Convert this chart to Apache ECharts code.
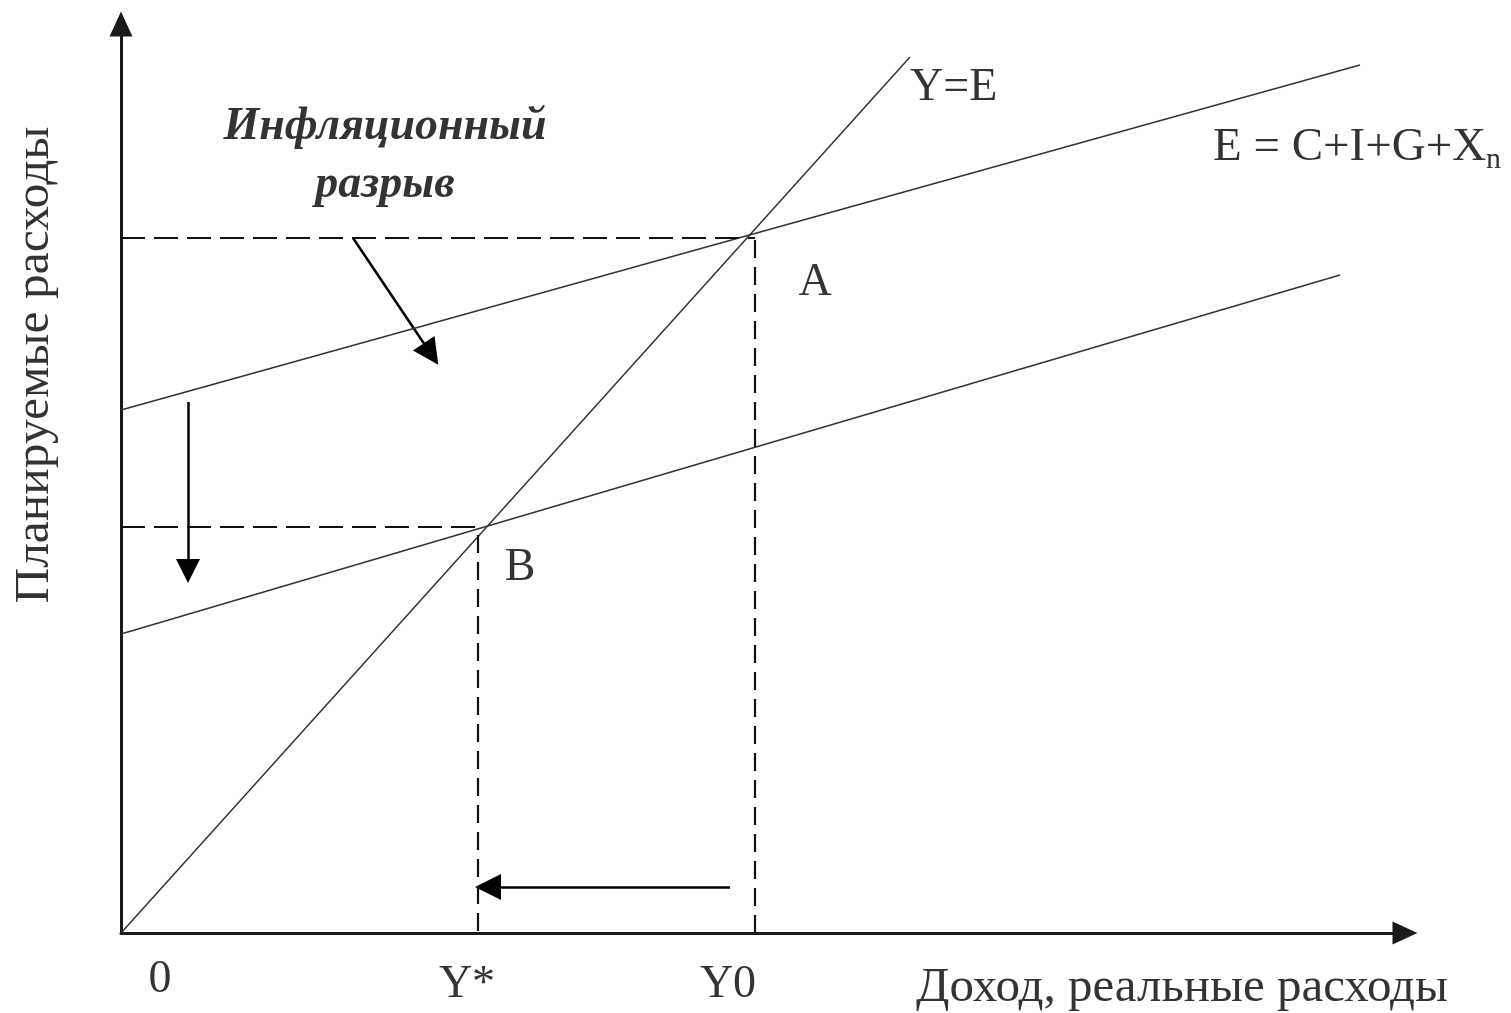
<!DOCTYPE html>
<html>
<head>
<meta charset="utf-8">
<script src="https://cdn.jsdelivr.net/npm/echarts@6/dist/echarts.min.js"></script>
<style>
html,body{margin:0;padding:0;background:#fff;}
#c{width:1511px;height:1013px;}
</style>
</head>
<body>
<div id="c"></div>
<script>
// Line data (x = income, y = planned expenditure; arbitrary units)
const lineYE = [[0, 0], [789, 876]];
const lineE1 = [[0, 523], [1239, 868]];
const lineE2 = [[0, 299], [1219, 658]];
// Dashed guides
const dashAH = [[0, 695], [634, 695]];
const dashAV = [[634, 693], [634, 0]];
const dashBH = [[0, 406], [357, 406]];
const dashBV = [[357, 398], [357, 0]];
// Arrows [from, to]
const arrowDown = [[67, 531], [67, 362]];
const arrowGap = [[232, 695], [310, 579]];
const arrowLeft = [[609, 46], [367, 46]];
// Text labels
const textItems = [
  { text: 'Y=E', pos: [789, 845], align: 'left' },
  { text: 'A', pos: [694, 650], align: 'center' },
  { text: 'B', pos: [399, 365], align: 'center' },
  { text: '0', pos: [39, -47], align: 'center' },
  { text: 'Y*', pos: [346, -52], align: 'center' },
  { text: 'Y0', pos: [607, -52], align: 'center' }
];
const formulaItems = [{ text: 'E = C+I+G+X{s|n}', pos: [1092, 785], align: 'left' }];
const xTitle = [{ text: 'Доход, реальные расходы', pos: [1061, -55], align: 'center' }];
const gapTitle = [{ text: 'Инфляционный', pos: [264, 806] }, { text: 'разрыв', pos: [264, 748] }];
const yTitle = [{ text: 'Планируемые расходы', pos: [-86, 568] }];

const FONT = '"Liberation Serif", "Times New Roman", serif';
const INK = '#1a1a1a';

function lineSeries(data, dashed, width, color) {
  return {
    type: 'line', data: data, symbol: 'none', silent: true, animation: false,
    lineStyle: { color: color || INK, width: width || 1.5, type: dashed ? dashed : 'solid' }
  };
}
function arrowSeries(pair, size) {
  return {
    type: 'lines', coordinateSystem: 'cartesian2d', silent: true, animation: false,
    symbol: ['none', 'triangle'], symbolSize: size,
    lineStyle: { color: '#000', width: 2.5, opacity: 1 },
    itemStyle: { color: '#000' },
    data: [{ coords: pair }]
  };
}
function textSeries(items, labelExtra) {
  const extra = labelExtra || {};
  return {
    type: 'scatter', clip: false, silent: true, animation: false, symbolSize: 0,
    data: items.map(function (t) {
      return {
        value: t.pos,
        label: Object.assign({
          show: true, formatter: t.text, position: [0, 0],
          align: t.align || 'center', verticalAlign: 'middle'
        }, extra)
      };
    }),
    label: Object.assign({
      fontFamily: FONT, fontSize: 46, color: '#000',
      rich: { s: { fontFamily: FONT, fontSize: 30, color: '#000', padding: [24, 0, 0, 0] } }
    }, extra)
  };
}

const chart = echarts.init(document.getElementById('c'), null, { renderer: 'canvas' });
chart.setOption({
  backgroundColor: '#fff',
  animation: false,
  grid: { left: 121, top: 24, width: 1284, height: 909 },
  xAxis: {
    type: 'value', min: 0, max: 1284,
    axisLine: { show: true, onZero: false, symbol: ['none', 'triangle'], symbolSize: [23, 25],
      lineStyle: { color: INK, width: 3 } },
    axisTick: { show: false }, axisLabel: { show: false }, splitLine: { show: false }
  },
  yAxis: {
    type: 'value', min: 0, max: 909,
    axisLine: { show: true, onZero: false, symbol: ['none', 'triangle'], symbolSize: [23, 25],
      lineStyle: { color: INK, width: 3 } },
    axisTick: { show: false }, axisLabel: { show: false }, splitLine: { show: false }
  },
  series: [
    lineSeries(lineYE, null, 1.5, '#333'),
    lineSeries(lineE1, null, 1.5, '#333'),
    lineSeries(lineE2, null, 1.5, '#333'),
    lineSeries(dashAH, [24, 9], 2.2, '#111'),
    lineSeries(dashAV, [18, 9], 2.2, '#111'),
    lineSeries(dashBH, [24, 9], 2.2, '#111'),
    lineSeries(dashBV, [18, 9], 2.2, '#111'),
    arrowSeries(arrowDown, [26, 24]),
    arrowSeries(arrowGap, [24, 26]),
    arrowSeries(arrowLeft, [24, 26]),
    textSeries(textItems),
    textSeries(formulaItems, { fontSize: 47 }),
    textSeries(xTitle, { fontSize: 49 }),
    textSeries(gapTitle, { fontStyle: 'italic', fontWeight: 'bold', fontSize: 46 }),
    textSeries(yTitle, { rotate: 90, fontSize: 49.5 })
  ]
});
</script>
</body>
</html>
